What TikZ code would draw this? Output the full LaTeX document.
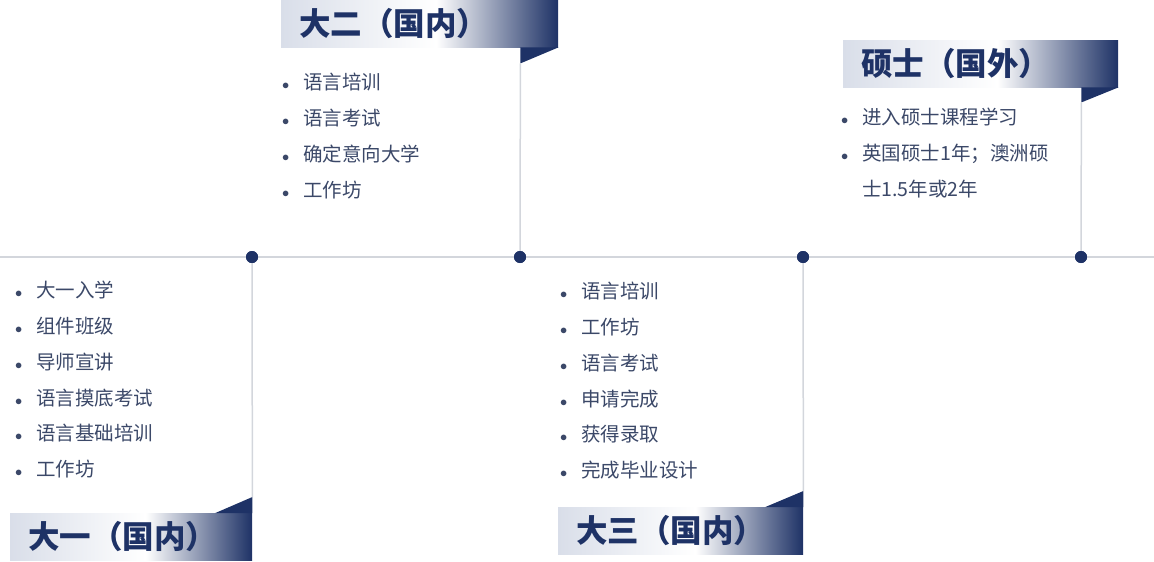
\documentclass[tikz,border=0pt]{standalone}
\usepackage{fontspec}
\newfontfamily\cjk{Noto Sans CJK SC}
\definecolor{navy}{HTML}{1E3266}
\definecolor{itemgray}{HTML}{3B4868}
\definecolor{linegray}{HTML}{D3D6DC}
\definecolor{boxlight}{HTML}{D9DEE9}
\pgfdeclarehorizontalshading{boxshade}{100bp}{color(0bp)=(boxlight); color(25bp)=(boxlight);
    color(53bp)=(white); color(75bp)=(navy); color(100bp)=(navy)}
\newcommand{\itm}[1]{\makebox[21pt][l]{$\scriptstyle\bullet$}#1}
\begin{document}
\begin{tikzpicture}[x=1pt, y=-1pt,
    dot/.style = {circle, fill=navy, inner sep=0pt, minimum size=12pt},
    titlebox/.style = {shading=boxshade, anchor=north west, minimum height=47pt,
        inner xsep=18pt, inner ysep=0pt, text=navy, align=left,
        font=\cjk\bfseries\fontsize{31.5}{31.5}\selectfont},
    items/.style = {anchor=north west, inner sep=0pt, text=itemgray, align=left,
        font=\cjk\fontsize{19.5}{35.8}\selectfont},
    fold/.style = {fill=navy},
    stem/.style = {draw=linegray, line width=1.5pt}]
    \useasboundingbox (0,0) rectangle (1154,562);
    % time line
    \coordinate (start) at (0,257);
    \coordinate (end) at (1154,257);
    \draw[stem] (start) -- (end);
    \node[dot] (d1) at (252,257) {};
    \node[dot] (d2) at (520,257) {};
    \node[dot] (d3) at (803,257) {};
    \node[dot] (d4) at (1081,257) {};
    % title boxes
    \node[titlebox, text width=206pt] (t1) at (10,513) {大一（国内）};
    \node[titlebox, text width=241pt] (t2) at (281,0) {大二（国内）};
    \node[titlebox, text width=209pt] (t3) at (558,507) {大三（国内）};
    \node[titlebox, text width=239pt] (t4) at (843,40) {硕士（国外）};
    % folds
    \fill[fold] (t1.north east) -- ++(0,-16) coordinate (s1) -- ++(-37,16) -- cycle;
    \fill[fold] (t2.south east) -- ++(-38,0) -- ++(0,16) coordinate (s2) -- cycle;
    \fill[fold] (t3.north east) -- ++(0,-16) coordinate (s3) -- ++(-38,16) -- cycle;
    \fill[fold] (t4.south east) -- ++(-37,0) -- ++(0,15) coordinate (s4) -- cycle;
    % stems
    \draw[stem] (s1) -- (d1);
    \draw[stem] (s2) -- (d2);
    \draw[stem] (s3) -- (d3);
    \draw[stem] (s4) -- (d4);
    \node[dot] at (d1) {};
    \node[dot] at (d2) {};
    \node[dot] at (d3) {};
    \node[dot] at (d4) {};
    % lists
    \node[items] (l1) at (15,281) {\itm{大一入学}\\ \itm{组件班级}\\ \itm{导师宣讲}\\
        \itm{语言摸底考试}\\ \itm{语言基础培训}\\ \itm{工作坊}};
    \node[items] (l2) at (282,73) {\itm{语言培训}\\ \itm{语言考试}\\ \itm{确定意向大学}\\ \itm{工作坊}};
    \node[items] (l3) at (560,282) {\itm{语言培训}\\ \itm{工作坊}\\ \itm{语言考试}\\
        \itm{申请完成}\\ \itm{获得录取}\\ \itm{完成毕业设计}};
    \node[items] (l4) at (841,108) {\itm{进入硕士课程学习}\\ \itm{英国硕士1年；澳洲硕}\\
        \makebox[21pt]{}士1.5年或2年};
\end{tikzpicture}
\end{document}
